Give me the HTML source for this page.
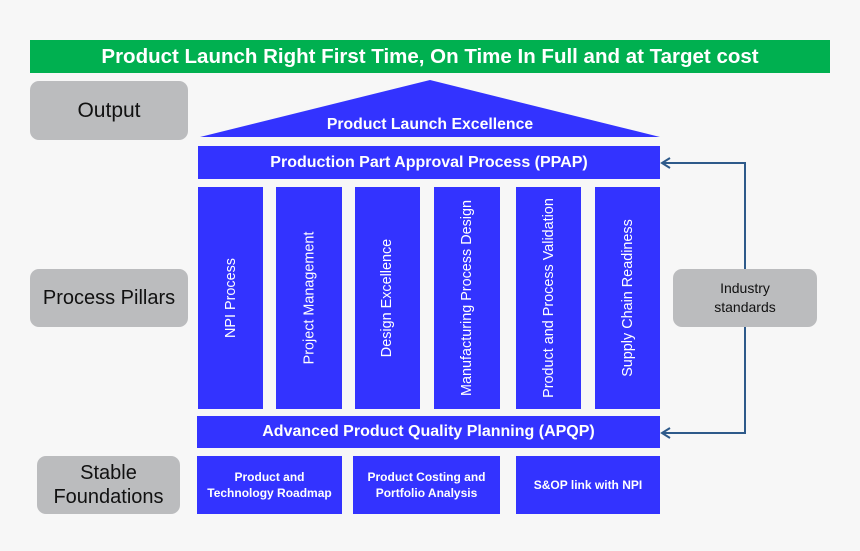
<!DOCTYPE html>
<html><head><style>
body{margin:0;background:#f7f7f7;width:860px;height:551px;position:relative;overflow:hidden;font-family:"Liberation Sans",Arial,sans-serif}
.a{position:absolute;box-sizing:border-box;display:flex;align-items:center;justify-content:center;text-align:center}
.b{background:#3333ff;color:#fff;font-weight:bold}
.g{background:#bbbcbe;border-radius:9px;color:#111}
.p span{transform:rotate(-90deg);white-space:nowrap;font-size:14.4px;font-weight:normal}
</style></head><body>
<div class="a" style="left:30px;top:40px;width:800px;height:33px;background:#00b050;color:#fff;font-weight:bold;font-size:20.5px">Product Launch Right First Time, On Time In Full and at Target cost</div>
<div class="a g" style="left:30px;top:81px;width:158px;height:59px;font-size:21px">Output</div>
<div class="a g" style="left:30px;top:269px;width:158px;height:58px;font-size:20px">Process Pillars</div>
<div class="a g" style="left:37px;top:456px;width:143px;height:58px;font-size:20px;line-height:24px">Stable<br>Foundations</div>
<div class="a g" style="left:673px;top:269px;width:144px;height:58px;font-size:14px;line-height:19px">Industry<br>standards</div>
<svg style="position:absolute;left:0;top:0" width="860" height="551">
<polygon points="200,137 660,137 430,80" fill="#3333ff"/>
<text x="430" y="129" fill="#fff" font-weight="bold" font-size="15.8" text-anchor="middle" font-family="Liberation Sans, Arial, sans-serif">Product Launch Excellence</text>
<path d="M745,269 V163 H662 M745,327 V433 H662" fill="none" stroke="#2e5a8a" stroke-width="2"/>
<path d="M670,158 L662,163 L670,168 M670,428 L662,433 L670,438" fill="none" stroke="#2e5a8a" stroke-width="2"/>
</svg>
<div class="a b" style="left:198px;top:146px;width:462px;height:33px;font-size:16px">Production Part Approval Process (PPAP)</div>
<div class="a b p" style="left:198px;top:187px;width:65px;height:222px"><span>NPI Process</span></div>
<div class="a b p" style="left:276px;top:187px;width:66px;height:222px"><span>Project Management</span></div>
<div class="a b p" style="left:355px;top:187px;width:65px;height:222px"><span>Design Excellence</span></div>
<div class="a b p" style="left:434px;top:187px;width:66px;height:222px"><span>Manufacturing Process Design</span></div>
<div class="a b p" style="left:516px;top:187px;width:65px;height:222px"><span>Product and Process Validation</span></div>
<div class="a b p" style="left:595px;top:187px;width:65px;height:222px"><span>Supply Chain Readiness</span></div>
<div class="a b" style="left:197px;top:416px;width:463px;height:32px;font-size:16px">Advanced Product Quality Planning (APQP)</div>
<div class="a b" style="left:197px;top:456px;width:145px;height:58px;font-size:12px;line-height:16px">Product and<br>Technology Roadmap</div>
<div class="a b" style="left:353px;top:456px;width:147px;height:58px;font-size:12px;line-height:16px">Product Costing and<br>Portfolio Analysis</div>
<div class="a b" style="left:516px;top:456px;width:144px;height:58px;font-size:12px">S&amp;OP link with NPI</div>
</body></html>
